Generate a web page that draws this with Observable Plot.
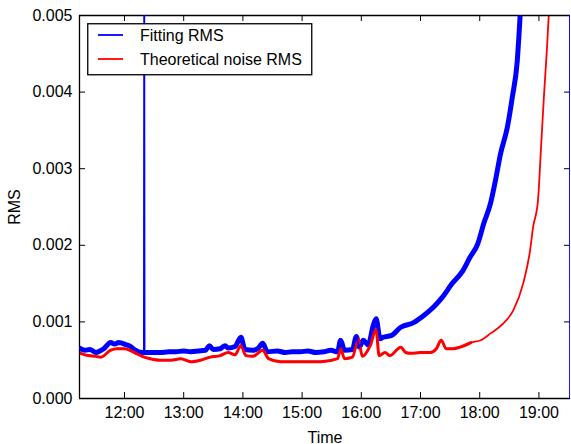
<!DOCTYPE html>
<html>
<head>
<meta charset="utf-8">
<script src="https://cdn.jsdelivr.net/npm/d3@7"></script>
<script src="https://cdn.jsdelivr.net/npm/@observablehq/plot@0.6"></script>
<style>
  html, body { margin: 0; padding: 0; background: white; }
  #wrap { position: relative; width: 571px; height: 444px; font-family: "Liberation Sans", Arial, sans-serif; }
  #legend { position: absolute; left: 87px; top: 23px; }
</style>
</head>
<body>
<div id="wrap"></div>
<script>
// ---- data ----
const blueTimes = ["11:14","11:20","11:25","11:31","11:35","11:39","11:46","11:50","11:54","12:02","12:06","12:10","12:18","12:19:40","12:20","12:20:20","12:30","12:36","12:45","12:52","13:00","13:07","13:15","13:22","13:26","13:30","13:37","13:42","13:45","13:52","13:58","14:02","14:10","14:15","14:20","14:25","14:35","14:43","14:50","14:58","15:06","15:14","15:22","15:29","15:36","15:39","15:43","15:51","15:55","15:58","16:02","16:07","16:12","16:15","16:19","16:22","16:30","16:40","16:53","17:03","17:13","17:22","17:32","17:43","17:50","17:58","18:04","18:11","18:16","18:21","18:28","18:33","18:38","18:41","18:50","19:05","19:20","19:31","19:31:30"];
const blueRms = [0.00066,0.00063,0.00064,0.00060,0.00062,0.00065,0.00073,0.00071,0.00073,0.00070,0.00068,0.00064,0.00060,0.00060,0.0060,0.00060,0.00060,0.00060,0.00061,0.00061,0.00062,0.00061,0.00062,0.00063,0.00069,0.00064,0.00065,0.00069,0.00066,0.00068,0.00080,0.00064,0.00063,0.00065,0.00072,0.00061,0.00062,0.00060,0.00061,0.00061,0.00062,0.00060,0.00061,0.00063,0.00061,0.00076,0.00063,0.00064,0.00081,0.00067,0.00076,0.00070,0.00095,0.00104,0.00078,0.00080,0.00082,0.00093,0.00099,0.00108,0.00119,0.00132,0.00150,0.00167,0.00184,0.00202,0.00228,0.00255,0.00285,0.00319,0.00354,0.00393,0.00440,0.00501,0.0065,0.012,0.025,0.05,-0.0005];

const redTimes = ["11:14","11:20","11:31","11:36","11:46","11:52","12:00","12:10","12:18","12:26","12:36","12:47","12:57","13:07","13:17","13:27","13:37","13:45","13:52","13:58","14:03","14:10","14:20","14:26","14:38","14:58","15:19","15:36","15:39","15:43","15:51","15:57","16:01","16:09","16:15","16:18","16:24","16:29","16:40","16:45","16:50","17:00","17:10","17:16","17:21","17:26","17:33","17:40","17:51","18:01","18:11","18:24","18:34","18:44","18:51","18:54","18:59","19:02","19:05","19:08","19:10","19:20","19:32"];
const redRms = [0.00060,0.00057,0.00055,0.00054,0.00063,0.00065,0.00065,0.00060,0.00055,0.00052,0.00050,0.00050,0.00052,0.00048,0.00050,0.00054,0.00056,0.00060,0.00057,0.00069,0.00056,0.00055,0.00063,0.00052,0.00048,0.00048,0.00048,0.00052,0.00065,0.00052,0.00054,0.00078,0.00055,0.00069,0.00090,0.00056,0.00060,0.00056,0.00067,0.00060,0.00059,0.00060,0.00060,0.00065,0.00076,0.00065,0.00065,0.00067,0.00073,0.00076,0.00085,0.00098,0.00115,0.00150,0.00193,0.00223,0.00258,0.00324,0.00393,0.00454,0.00501,0.009,0.020];

const xTickLabels = ["12:00","13:00","14:00","15:00","16:00","17:00","18:00","19:00"];
const yTickValues = [0, 0.001, 0.002, 0.003, 0.004, 0.005];
const xDomainLabels = ["11:14:24","19:32:00"];
const yDomain = [0, 0.005];
const seriesNames = ["Fitting RMS", "Theoretical noise RMS"];
const seriesColors = ["#0000ff", "#ff0000"];

// ---- build tables ----
const toDate = s => { const p = s.split(":").map(Number); return new Date(Date.UTC(2000, 0, 1, p[0], p[1], p[2] || 0)); };
const blue = blueTimes.map((t, i) => ({t: toDate(t), v: blueRms[i]}));
const red = redTimes.map((t, i) => ({t: toDate(t), v: redRms[i]}));
const blueInRange = blue.filter(d => d.v >= 0 && d.v <= 0.0051);
const redNoisy = red.filter(d => d.t <= toDate("17:55"));
const xTicks = xTickLabels.map(toDate);
const xDomain = xDomainLabels.map(toDate);

const W = 571, H = 444, mL = 79, mR = 1, mT = 15, mB = 46;
const innerW = W - mL - mR, innerH = H - mT - mB;
const font = '"Liberation Sans", Arial, sans-serif';

const chart = Plot.plot({
  width: W, height: H,
  marginLeft: mL, marginRight: mR, marginTop: mT, marginBottom: mB,
  style: {fontFamily: font, fontSize: "16px", color: "black", background: "white", overflow: "visible"},
  x: {type: "utc", domain: xDomain},
  y: {domain: yDomain},
  marks: [
    Plot.line(blueInRange, {x: "t", y: "v", stroke: seriesColors[0], strokeWidth: 5, curve: "monotone-x", clip: true}),
    Plot.line(red, {x: "t", y: "v", stroke: seriesColors[1], strokeWidth: 1.8, curve: "monotone-x", clip: true}),
    Plot.line(redNoisy, {x: "t", y: "v", stroke: seriesColors[1], strokeWidth: 3, curve: "monotone-x", clip: true}),
    Plot.tickX(xTicks, {x: d => d, insetTop: innerH - 6, stroke: "black", strokeWidth: 1}),
    Plot.tickX(xTicks, {x: d => d, insetBottom: innerH - 6, stroke: "black", strokeWidth: 1}),
    Plot.tickY(yTickValues, {y: d => d, insetRight: innerW - 6, stroke: "black", strokeWidth: 1}),
    Plot.tickY(yTickValues, {y: d => d, insetLeft: innerW - 6, stroke: "black", strokeWidth: 1}),
    // spines: top, bottom, left (the right edge is covered by the blue series' final drop)
    Plot.ruleY(yDomain, {stroke: "black", strokeWidth: 1.3}),
    Plot.ruleX([xDomain[0]], {stroke: "black", strokeWidth: 1.3}),
    Plot.line(blue, {x: "t", y: "v", stroke: seriesColors[0], strokeWidth: 1.8, clip: true}),
    Plot.axisX({ticks: xTicks, tickSize: 0, tickPadding: 8, tickFormat: d3.utcFormat("%H:%M"),
      label: "Time", labelAnchor: "center", labelOffset: 44, labelArrow: "none"}),
    Plot.axisY({ticks: yTickValues, tickSize: 0, tickPadding: 7, tickFormat: d3.format(".3f"),
      label: "RMS", labelAnchor: "center", labelOffset: 71, labelArrow: "none"})
  ]
});

const wrap = document.getElementById("wrap");
wrap.appendChild(chart);

// legend (inside the plot area, top-left)
const ns = "http://www.w3.org/2000/svg";
const leg = document.createElementNS(ns, "svg");
leg.setAttribute("id", "legend");
leg.setAttribute("width", 226);
leg.setAttribute("height", 53);
const box = document.createElementNS(ns, "rect");
box.setAttribute("x", 0.75); box.setAttribute("y", 0.75);
box.setAttribute("width", 224); box.setAttribute("height", 51);
box.setAttribute("fill", "white"); box.setAttribute("stroke", "black"); box.setAttribute("stroke-width", 1.3);
leg.appendChild(box);
seriesNames.forEach((name, i) => {
  const cy = 12 + i * 24;
  const ln = document.createElementNS(ns, "line");
  ln.setAttribute("x1", 11); ln.setAttribute("x2", 36);
  ln.setAttribute("y1", cy); ln.setAttribute("y2", cy);
  ln.setAttribute("stroke", seriesColors[i]); ln.setAttribute("stroke-width", 1.8);
  leg.appendChild(ln);
  const tx = document.createElementNS(ns, "text");
  tx.setAttribute("x", 53); tx.setAttribute("y", cy + 6);
  tx.setAttribute("font-family", font); tx.setAttribute("font-size", 16);
  tx.setAttribute("fill", "black");
  tx.textContent = name;
  leg.appendChild(tx);
});
wrap.appendChild(leg);
</script>
</body>
</html>
